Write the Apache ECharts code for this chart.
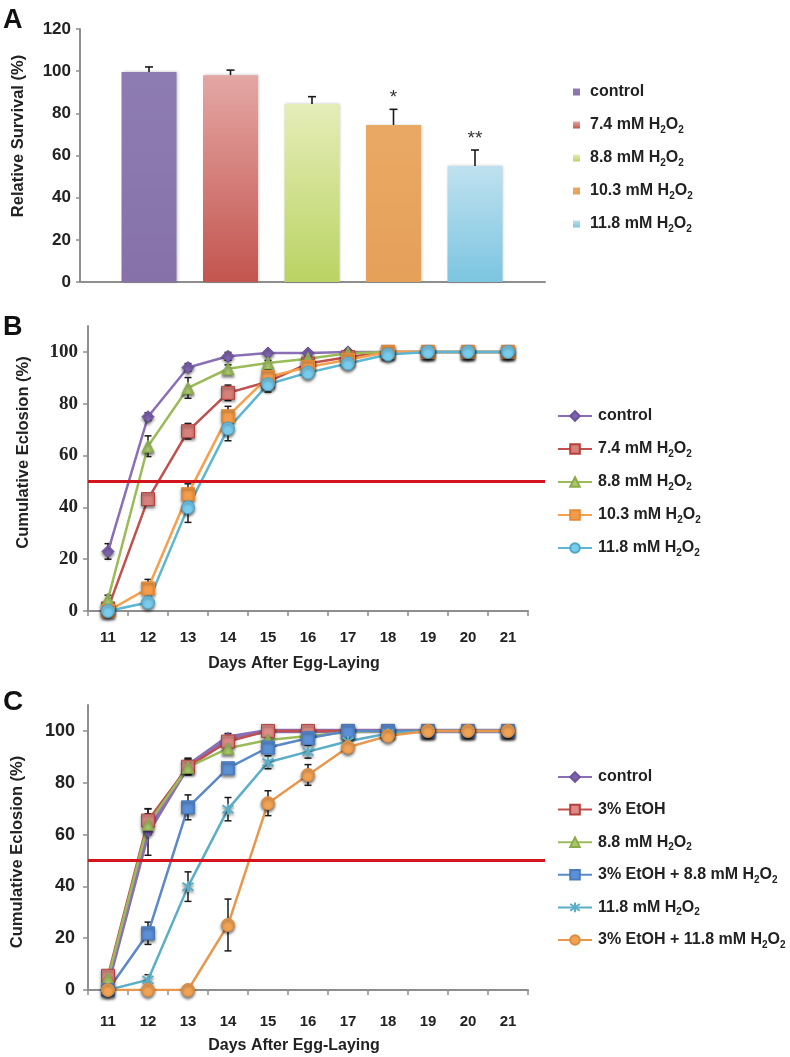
<!DOCTYPE html>
<html>
<head>
<meta charset="utf-8">
<script src="https://cdn.jsdelivr.net/npm/echarts@6/dist/echarts.min.js"></script>
<style>
  html, body { margin: 0; padding: 0; background: #fff; }
  #chart { width: 790px; height: 1057px; }
</style>
</head>
<body>
<div id="chart"></div>
<script>
// ---- data ----------------------------------------------------------
const DAYS = ['11', '12', '13', '14', '15', '16', '17', '18', '19', '20', '21'];
const SURVIVAL_TICKS = [0, 20, 40, 60, 80, 100, 120];
const ECLOSION_TICKS = [0, 20, 40, 60, 80, 100];

// A: relative survival
const A_GROUPS = ['control', '7.4 mM H2O2', '8.8 mM H2O2', '10.3 mM H2O2', '11.8 mM H2O2'];
const A_SURVIVAL = [99.6, 98.1, 84.4, 74.5, 55.0];
const A_ERR = [2.4, 2.4, 3.5, 7.4, 7.6];
const A_SIG = ['', '', '', '*', '**'];

// B: cumulative eclosion, H2O2 doses
const B_GROUPS = ['control', '7.4 mM H2O2', '8.8 mM H2O2', '10.3 mM H2O2', '11.8 mM H2O2'];
const B_CONTROL = [23, 75, 94, 98.3, 99.6, 99.6, 100, 100, 100, 100, 100];
const B_74 = [1, 43.2, 69.4, 84.2, 88.5, 95.5, 98, 100, 100, 100, 100];
const B_88 = [4.6, 63.6, 86.1, 93.5, 95.7, 97.4, 99.5, 100, 100, 100, 100];
const B_103 = [0, 8.7, 45.1, 75.2, 90.3, 94.2, 97, 100, 100, 100, 100];
const B_118 = [0, 3.3, 40, 70.4, 87.5, 92, 95.5, 99, 100, 100, 100];
const B_CONTROL_ERR = [3, 1.5, 1.5, 1.5, 0.5, 0.5, 0, 0, 0, 0, 0];
const B_74_ERR = [1, 1.5, 3, 3, 2, 1, 0.5, 0, 0, 0, 0];
const B_88_ERR = [1.5, 4, 4, 1.5, 1, 1, 0.5, 0, 0, 0, 0];
const B_103_ERR = [0.5, 3.5, 4, 3.8, 3, 1.5, 1, 0.5, 0, 0, 0];
const B_118_ERR = [0.5, 1.5, 5.8, 4.7, 3, 1.5, 1.5, 1, 0, 0, 0];

// C: cumulative eclosion, EtOH rescue
const C_GROUPS = ['control', '3% EtOH', '8.8 mM H2O2', '3% EtOH + 8.8 mM H2O2', '11.8 mM H2O2', '3% EtOH + 11.8 mM H2O2'];
const C_CONTROL = [3, 61, 86.5, 97.5, 100, 100, 100, 100, 100, 100, 100];
const C_ETOH = [5.5, 65.4, 86.2, 95.9, 100, 100, 100, 100, 100, 100, 100];
const C_88 = [4.5, 64, 86, 93.3, 96.5, 98, 99.5, 100, 100, 100, 100];
const C_ETOH_88 = [0, 21.9, 70.5, 85.6, 93.6, 97.2, 100, 100, 100, 100, 100];
const C_118 = [0, 3.9, 39.9, 69.8, 87.9, 92, 96, 99, 100, 100, 100];
const C_ETOH_118 = [0, 0, 0, 25.1, 72.1, 83, 93.7, 98.1, 100, 100, 100];
const C_CONTROL_ERR = [2, 9, 3, 1.5, 0.5, 0, 0, 0, 0, 0, 0];
const C_ETOH_ERR = [1.5, 4.5, 3, 1.5, 0.5, 0.5, 0, 0, 0, 0, 0];
const C_88_ERR = [1.5, 4, 3, 1.5, 1, 1, 0.5, 0, 0, 0, 0];
const C_ETOH_88_ERR = [0.5, 4.3, 4.8, 2, 1.5, 1, 0.5, 0, 0, 0, 0];
const C_118_ERR = [0.5, 2, 5.7, 4.5, 2.5, 2.5, 1.5, 1, 0, 0, 0];
const C_ETOH_118_ERR = [0, 0, 0, 10, 4.8, 4, 2, 1, 0, 0, 0];

const HALF_LINE = 50;

// ---- style ---------------------------------------------------------
const SANS = '"Liberation Sans", Arial, Helvetica, sans-serif';
const SERIF = '"Liberation Serif", "Times New Roman", serif';
const AXIS_GRAY = '#8e8e8e';
const INK = '#1a1a1a';

const GRID_A = { left: 80, top: 29, width: 465, height: 253 };
const GRID_B = { left: 88, top: 326, width: 440, height: 285 };
const GRID_C = { left: 88, top: 705, width: 440, height: 285 };

const grad = (top, bottom) => new echarts.graphic.LinearGradient(0, 0, 0, 1, [
  { offset: 0, color: top }, { offset: 1, color: bottom }
]);

const A_COLORS = [
  grad('#8d7cb2', '#8672a9'),
  grad('#e4a7a4', '#c4554f'),
  grad('#e5edb8', '#bad363'),
  grad('#e9a964', '#e5a05a'),
  grad('#bfe1ef', '#7cc5e0')
];

const STAR = 'path://M1.5,1.5L8.5,8.5M8.5,1.5L1.5,8.5M5,0L5,10';

const B_STYLE = [
  { symbol: 'diamond', size: 12, line: '#8a6fb6', fill: '#7d62ad', border: '#6c539b' },
  { symbol: 'rect', size: 13, line: '#c0504d', fill: '#d8807c', border: '#b4403c' },
  { symbol: 'triangle', size: 12, line: '#9bbb59', fill: '#a9c96a', border: '#8aab4a' },
  { symbol: 'rect', size: 13, line: '#f6a04f', fill: '#f59c4a', border: '#e48a38' },
  { symbol: 'circle', size: 13, line: '#5cb6d4', fill: '#79cbec', border: '#4aa5c8' }
];
const C_STYLE = [
  { symbol: 'diamond', size: 10, line: '#8a6fb6', fill: '#7d62ad', border: '#6c539b', width: 4.5 },
  { symbol: 'rect', size: 13, line: '#c0504d', fill: '#df8a87', border: '#b4403c' },
  { symbol: 'triangle', size: 12, line: '#9bbb59', fill: '#a9c96a', border: '#8aab4a' },
  { symbol: 'rect', size: 13, line: '#5a88c8', fill: '#5b8fd6', border: '#4a7bbf' },
  { symbol: STAR, size: 11, line: '#5aaec8', fill: 'none', border: '#5aaec8', bw: 2 },
  { symbol: 'circle', size: 13, line: '#e8974f', fill: '#f0a355', border: '#de8c42' }
];

// ---- helpers -------------------------------------------------------
function pretty(name) {
  return name.split('|')[0].replace(/H2O2/g, 'H{s|2}O{s|2}');
}

function legendText(padLeft) {
  return {
    fontFamily: SANS, fontSize: 16, fontWeight: 'bold', color: '#222', lineHeight: 20,
    padding: [0, 0, 0, padLeft],
    rich: { s: { fontFamily: SANS, fontSize: 10, fontWeight: 'bold', color: '#222', lineHeight: 10, padding: [10, 0, 0, 0] } }
  };
}

function legendFor(names, top, left, gap, extra) {
  return Object.assign({
    data: names, orient: 'vertical', left: left, top: top, itemGap: gap, padding: 0,
    selectedMode: false, itemWidth: 34, itemHeight: 12,
    formatter: pretty,
    textStyle: legendText(1)
  }, extra || {});
}

function lineSeries(name, idx, values, st) {
  return {
    type: 'line', name: name, xAxisIndex: idx, yAxisIndex: idx, data: values,
    symbol: st.symbol, symbolSize: st.size, z: 3,
    lineStyle: { color: st.line, width: st.width || 2.5 },
    itemStyle: {
      color: st.fill, borderColor: st.border, borderWidth: st.bw || 1,
      shadowColor: 'rgba(0,0,0,0.55)', shadowBlur: 3, shadowOffsetY: 2
    },
    emphasis: { disabled: true }, animation: false
  };
}

function errorSeries(idx, values, errs) {
  const rows = [];
  values.forEach((v, i) => { if (errs[i] > 0) rows.push([i, v - errs[i], v + errs[i]]); });
  return {
    type: 'custom', xAxisIndex: idx, yAxisIndex: idx, z: 2, silent: true, animation: false,
    data: rows,
    renderItem(params, api) {
      const x = api.value(0);
      const lo = api.coord([x, api.value(1)]);
      const hi = api.coord([x, api.value(2)]);
      const style = { stroke: INK, lineWidth: 1.5 };
      return {
        type: 'group', children: [
          { type: 'line', shape: { x1: lo[0], y1: lo[1], x2: hi[0], y2: hi[1] }, style },
          { type: 'line', shape: { x1: hi[0] - 3.5, y1: hi[1], x2: hi[0] + 3.5, y2: hi[1] }, style },
          { type: 'line', shape: { x1: lo[0] - 3.5, y1: lo[1], x2: lo[0] + 3.5, y2: lo[1] }, style }
        ]
      };
    }
  };
}

function halfLine(grid) {
  return {
    silent: true, symbol: 'none', label: { show: false }, animation: false,
    lineStyle: { color: '#d3141c', width: 3, type: 'solid' },
    data: [[{ yAxis: HALF_LINE, x: grid.left }, { yAxis: HALF_LINE, x: grid.left + grid.width + 17 }]]
  };
}

function pctYAxis(idx, labelFont, labelSize, margin, gap, pad) {
  return {
    type: 'value', gridIndex: idx, min: 0, max: 110,
    name: 'Cumulative Eclosion (%)', nameLocation: 'middle', nameGap: gap,
    nameTextStyle: { fontFamily: SANS, fontSize: 16.5, fontWeight: 'bold', color: '#222', padding: pad },
    axisLine: { show: true, lineStyle: { color: AXIS_GRAY, width: 2 } },
    axisTick: { show: true, length: 5, customValues: ECLOSION_TICKS, lineStyle: { color: AXIS_GRAY, width: 1.5 } },
    axisLabel: { customValues: ECLOSION_TICKS, margin: margin, fontFamily: labelFont, fontSize: labelSize, fontWeight: 'bold', color: '#222' },
    splitLine: { show: false }
  };
}

function dayXAxis(idx, margin, gap) {
  return {
    type: 'category', gridIndex: idx, data: DAYS, boundaryGap: true,
    name: 'Days After Egg-Laying', nameLocation: 'middle', nameGap: gap,
    nameTextStyle: { fontFamily: SANS, fontSize: 16, fontWeight: 'bold', color: '#222', padding: [0, 28, 0, 0] },
    axisLine: { lineStyle: { color: AXIS_GRAY, width: 2 } },
    axisTick: { show: true, length: 5, lineStyle: { color: AXIS_GRAY, width: 1.5 } },
    axisLabel: { margin: margin, fontFamily: SANS, fontSize: 15, fontWeight: 'bold', color: '#222' },
    splitLine: { show: false }
  };
}

// ---- series --------------------------------------------------------
const aNames = A_GROUPS.map(g => g + '|A');
const bNames = B_GROUPS.map(g => g + '|B');
const cNames = C_GROUPS.map(g => g + '|C');

const series = [];

A_GROUPS.forEach((g, i) => {
  series.push({
    type: 'bar', name: aNames[i], xAxisIndex: 0, yAxisIndex: 0,
    data: [[i + 1, A_SURVIVAL[i]]], barWidth: 55, barGap: '-100%',
    itemStyle: { color: A_COLORS[i], shadowColor: 'rgba(0,0,0,0.25)', shadowBlur: 3, shadowOffsetX: 1 },
    emphasis: { disabled: true }, animation: false
  });
});
series.push({
  type: 'custom', xAxisIndex: 0, yAxisIndex: 0, z: 4, silent: true, animation: false,
  data: A_SURVIVAL.map((v, i) => [i + 1, v, v + A_ERR[i]]),
  renderItem(params, api) {
    const x = api.value(0);
    const lo = api.coord([x, api.value(1)]);
    const hi = api.coord([x, api.value(2)]);
    const style = { stroke: INK, lineWidth: 1.6 };
    return {
      type: 'group', children: [
        { type: 'line', shape: { x1: lo[0], y1: lo[1], x2: hi[0], y2: hi[1] }, style },
        { type: 'line', shape: { x1: hi[0] - 4, y1: hi[1], x2: hi[0] + 4, y2: hi[1] }, style },
        { type: 'text', x: hi[0], y: hi[1] - 2, style: {
          text: A_SIG[params.dataIndex], fill: '#333', font: '19px ' + SANS,
          align: 'center', verticalAlign: 'bottom', textAlign: 'center', textVerticalAlign: 'bottom'
        } }
      ]
    };
  }
});

const bValues = [B_CONTROL, B_74, B_88, B_103, B_118];
const bErrs = [B_CONTROL_ERR, B_74_ERR, B_88_ERR, B_103_ERR, B_118_ERR];
bValues.forEach((vals, i) => series.push(errorSeries(1, vals, bErrs[i])));
bValues.forEach((vals, i) => {
  const s = lineSeries(bNames[i], 1, vals, B_STYLE[i]);
  if (i === 0) s.markLine = halfLine(GRID_B);
  series.push(s);
});

const cValues = [C_CONTROL, C_ETOH, C_88, C_ETOH_88, C_118, C_ETOH_118];
const cErrs = [C_CONTROL_ERR, C_ETOH_ERR, C_88_ERR, C_ETOH_88_ERR, C_118_ERR, C_ETOH_118_ERR];
cValues.forEach((vals, i) => series.push(errorSeries(2, vals, cErrs[i])));
cValues.forEach((vals, i) => {
  const s = lineSeries(cNames[i], 2, vals, C_STYLE[i]);
  if (i === 0) s.markLine = halfLine(GRID_C);
  series.push(s);
});

// ---- chart ---------------------------------------------------------
const chart = echarts.init(document.getElementById('chart'), null, { renderer: 'canvas' });
chart.setOption({
  backgroundColor: '#fff',
  animation: false,
  graphic: [
    { type: 'text', left: 3, top: 7, style: { text: 'A', font: 'bold 27px ' + SANS, fill: '#111' } },
    { type: 'text', left: 3, top: 314, style: { text: 'B', font: 'bold 27px ' + SANS, fill: '#111' } },
    { type: 'text', left: 3, top: 688, style: { text: 'C', font: 'bold 28px ' + SANS, fill: '#111' } }
  ],
  grid: [GRID_A, GRID_B, GRID_C],
  legend: [
    legendFor(aNames, 82, 573, 13, { itemWidth: 7, itemHeight: 7, icon: 'rect', textStyle: legendText(5) }),
    legendFor(bNames, 406, 557, 13),
    legendFor(cNames, 767, 557, 12.6)
  ],
  xAxis: [
    {
      type: 'value', gridIndex: 0, min: 0.1533, max: 5.859,
      axisLine: { show: true, onZero: false, lineStyle: { color: AXIS_GRAY, width: 2 } },
      axisTick: { show: false }, axisLabel: { show: false }, splitLine: { show: false }
    },
    dayXAxis(1, 19, 45),
    dayXAxis(2, 24, 48)
  ],
  yAxis: [
    {
      type: 'value', gridIndex: 0, min: 0, max: 120, interval: 20,
      name: 'Relative Survival (%)', nameLocation: 'middle', nameGap: 53,
      nameTextStyle: { fontFamily: SANS, fontSize: 16.5, fontWeight: 'bold', color: '#222', padding: [0, 0, 0, 39] },
      axisLine: { show: true, lineStyle: { color: AXIS_GRAY, width: 2 } },
      axisTick: { show: true, length: 4, customValues: SURVIVAL_TICKS, lineStyle: { color: AXIS_GRAY, width: 1.5 } },
      axisLabel: { customValues: SURVIVAL_TICKS, margin: 9, fontFamily: SANS, fontSize: 17, fontWeight: 'bold', color: '#222' },
      splitLine: { show: false }
    },
    pctYAxis(1, SERIF, 19, 10, 56, [0, 0, 0, 32]),
    pctYAxis(2, SANS, 18, 13, 62, [0, 9, 0, 0])
  ],
  series: series
});
</script>
</body>
</html>
